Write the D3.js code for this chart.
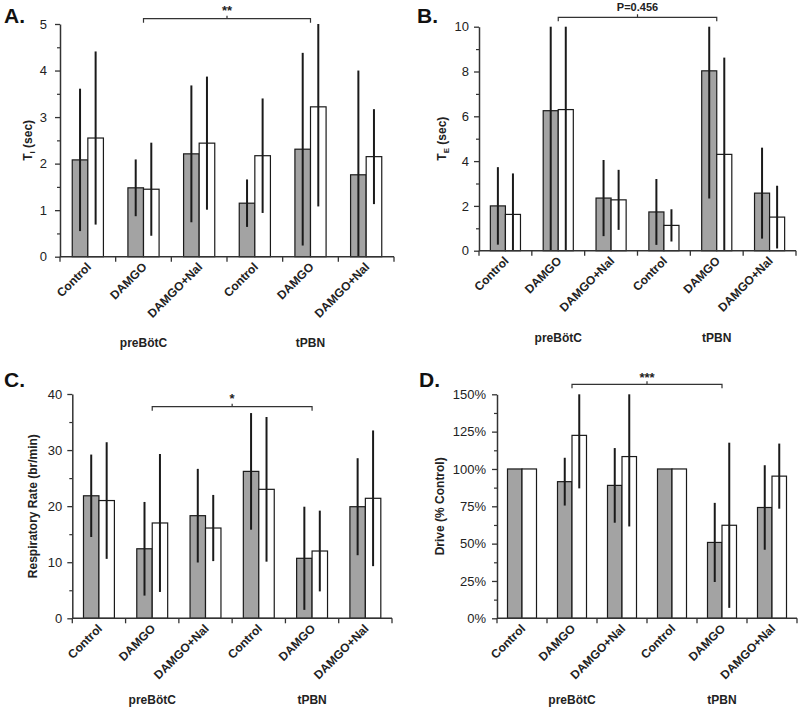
<!DOCTYPE html>
<html><head><meta charset="utf-8">
<script src="https://cdn.jsdelivr.net/npm/d3@7"></script>
<style>body{margin:0;background:#fff}svg{display:block}</style>
</head><body><svg id="c" width="800" height="709"></svg>
<script>
// ---------- data ----------
const categories = ["Control","DAMGO","DAMGO+Nal","Control","DAMGO","DAMGO+Nal"];
const groups = ["preBötC","tPBN"];

// Panel A: T_I (sec)
const tiGrayMean  = [2.08,1.48,2.21,1.15,2.31,1.76];
const tiGraySD    = [1.53,0.61,1.47,0.51,2.07,2.24];
const tiWhiteMean = [2.55,1.45,2.44,2.17,3.22,2.15];
const tiWhiteSD   = [1.86,1.00,1.43,1.23,2.14,1.02];
const tiTicks = [0,1,2,3,4,5];

// Panel B: T_E (sec)
const teGrayMean  = [2.00,6.25,2.35,1.73,8.03,2.57];
const teGraySD    = [1.73,6.60,1.70,1.47,5.70,2.03];
const teWhiteMean = [1.62,6.30,2.27,1.13,4.30,1.50];
const teWhiteSD   = [1.83,6.60,1.34,0.72,4.32,1.40];
const teTicks = [0,2,4,6,8,10];

// Panel C: Respiratory Rate (br/min)
const rrGrayMean  = [21.85,12.4,18.3,26.2,10.7,19.9];
const rrGraySD    = [7.35,8.35,8.35,10.4,9.2,8.65];
const rrWhiteMean = [21.0,17.0,16.1,23.0,12.0,21.4];
const rrWhiteSD   = [10.4,12.3,5.9,12.9,7.2,12.1];
const rrTicks = [0,10,20,30,40];

// Panel D: Drive (% Control)
const drGrayMean  = [100,91.5,89,100,50.8,74.2];
const drGraySD    = [0,16,25,0,26.5,28.3];
const drWhiteMean = [100,122.5,108.3,100,62.3,95.2];
const drWhiteSD   = [0,35.5,46.8,0,55.3,21.8];
const drTicks = [0,25,50,75,100,125,150];

const sigLabels = ["**","P=0.456","*","***"];
const sigPair = [1,4];

// ---------- drawing ----------
const svg = d3.select("#c");
const FONT = "'Liberation Sans', Arial, sans-serif";
const GRAY = "#a3a3a3";

function panel(o){
  const g = svg.append("g");
  const x = d3.scaleBand().domain(d3.range(categories.length)).range([o.left, o.right]).padding(0);
  const y = d3.scaleLinear().domain([0, d3.max(o.ticks)]).range([o.bottom, o.top]);
  const bw = x.bandwidth() * o.barFrac;
  const cx = i => x(i) + x.bandwidth()/2;
  const dmax = d3.max(o.ticks);

  const series = [
    {mean:o.grayMean, sd:o.graySD, fill:GRAY, off:-bw},
    {mean:o.whiteMean, sd:o.whiteSD, fill:"#fff", off:0}
  ];
  series.forEach(s=>{
    const rows = s.mean.map((m,i)=>({i, m, sd:s.sd[i]}));
    g.selectAll(null).data(rows).enter().append("rect")
      .attr("x",d=>cx(d.i)+s.off).attr("width",bw)
      .attr("y",d=>y(d.m)).attr("height",d=>y(0)-y(d.m))
      .attr("fill",s.fill).attr("stroke","#1a1a1a").attr("stroke-width",1.2);
  });
  series.forEach(s=>{
    const rows = s.mean.map((m,i)=>({i, m, sd:s.sd[i]})).filter(d=>d.sd>0);
    g.selectAll(null).data(rows).enter().append("line")
      .attr("x1",d=>cx(d.i)+s.off+bw/2).attr("x2",d=>cx(d.i)+s.off+bw/2)
      .attr("y1",d=>y(Math.min(dmax,d.m+d.sd)))
      .attr("y2",d=>y(Math.max(0,d.m-d.sd)))
      .attr("stroke","#1a1a1a").attr("stroke-width",2);
  });

  // y axis
  const step = o.ticks[1]-o.ticks[0];
  const minor = d3.range(0, dmax+1e-9, step/2).filter(v=>Math.abs(v/step-Math.round(v/step))>1e-6);
  const ya = g.append("g").attr("transform",`translate(${o.left},0)`)
    .call(d3.axisLeft(y).tickValues(o.ticks).tickSize(5).tickPadding(o.tickPad).tickSizeOuter(0).tickFormat(o.fmt));
  ya.select(".domain").attr("stroke","#333").attr("stroke-width",1.5);
  ya.selectAll(".tick line").attr("stroke","#333").attr("stroke-width",1.3);
  ya.selectAll("text").attr("font-family",FONT).attr("font-size",o.tickFont).attr("fill","#222");
  const ym = g.append("g").attr("transform",`translate(${o.left},0)`)
    .call(d3.axisLeft(y).tickValues(minor).tickSize(3).tickFormat(""));
  ym.select(".domain").remove();
  ym.selectAll(".tick line").attr("stroke","#333").attr("stroke-width",1.2);

  // x axis with boundary ticks
  const xa = g.append("g");
  xa.append("line").attr("x1",o.left).attr("x2",o.right).attr("y1",y(0)).attr("y2",y(0))
    .attr("stroke","#333").attr("stroke-width",1.5);
  xa.selectAll(null).data(d3.range(categories.length+1)).enter().append("line")
    .attr("x1",i=> i<categories.length ? x(i) : o.right)
    .attr("x2",i=> i<categories.length ? x(i) : o.right)
    .attr("y1",y(0)).attr("y2",y(0)+5).attr("stroke","#333").attr("stroke-width",1.3);
  xa.selectAll(null).data(categories).enter().append("text")
    .attr("transform",(d,i)=>`translate(${cx(i)+o.lblDx},${y(0)+o.lblDy}) rotate(-45)`)
    .attr("text-anchor","end").attr("font-family",FONT).attr("font-weight","bold")
    .attr("font-size",12).attr("fill","#222").text(d=>d);
  g.selectAll(null).data(groups).enter().append("text")
    .attr("x",(d,i)=>cx(1+3*i)).attr("y",o.groupY).attr("text-anchor","middle")
    .attr("font-family",FONT).attr("font-weight","bold").attr("font-size",12).attr("fill","#222").text(d=>d);

  // y title
  const yt = g.append("text").attr("transform",`translate(${o.titleX},${(o.top+o.bottom)/2}) rotate(-90)`)
    .attr("text-anchor","middle").attr("font-family",FONT).attr("font-weight","bold")
    .attr("font-size",12).attr("fill","#222");
  yt.append("tspan").text(o.title[0]);
  if(o.title[1]) yt.append("tspan").attr("font-size",8).attr("dy",3).text(o.title[1]);
  if(o.title[2]) yt.append("tspan").attr("dy",o.title[1]?-3:0).text(o.title[2]);

  // significance bracket
  const bx1 = cx(sigPair[0]), bx2 = cx(sigPair[1]);
  const bk = g.append("g").attr("stroke","#333").attr("stroke-width",1.2).attr("fill","none");
  bk.append("path").attr("d",`M${bx1},${o.bracketY+4}V${o.bracketY}H${bx2}V${o.bracketY+4}M${(bx1+bx2)/2},${o.bracketY}V${o.bracketY-3}`);
  g.append("text").attr("x",(bx1+bx2)/2).attr("y",o.sigY).attr("text-anchor","middle")
    .attr("font-family",FONT).attr("font-weight","bold").attr("font-size",o.sigFont).attr("fill","#222").text(o.sig);

  g.append("text").attr("x",o.letterX).attr("y",o.letterY).attr("font-family",FONT)
    .attr("font-weight","bold").attr("font-size",21).attr("fill","#111").text(o.letter);
}

panel({letter:"A.", letterX:4, letterY:23, left:60, right:394, top:24, bottom:256.7,
  ticks:tiTicks, fmt:d3.format("d"), tickPad:8, tickFont:13, barFrac:0.28,
  grayMean:tiGrayMean, graySD:tiGraySD, whiteMean:tiWhiteMean, whiteSD:tiWhiteSD,
  title:["T","I"," (sec)"], titleX:32, groupY:347, lblDx:4, lblDy:11,
  bracketY:18.7, sig:sigLabels[0], sigY:15, sigFont:13});

panel({letter:"B.", letterX:417, letterY:23, left:479, right:796, top:26.7, bottom:250.7,
  ticks:teTicks, fmt:d3.format("d"), tickPad:5, tickFont:13, barFrac:0.285,
  grayMean:teGrayMean, graySD:teGraySD, whiteMean:teWhiteMean, whiteSD:teWhiteSD,
  title:["T","E"," (sec)"], titleX:446, groupY:342, lblDx:4, lblDy:11,
  bracketY:17.3, sig:sigLabels[1], sigY:11, sigFont:11});

panel({letter:"C.", letterX:4, letterY:387, left:72.3, right:392, top:394, bottom:618.3,
  ticks:rrTicks, fmt:d3.format("d"), tickPad:5, tickFont:13, barFrac:0.29,
  grayMean:rrGrayMean, graySD:rrGraySD, whiteMean:rrWhiteMean, whiteSD:rrWhiteSD,
  title:["Respiratory Rate (br/min)"], titleX:37, groupY:704, lblDx:4, lblDy:11,
  bracketY:406.7, sig:sigLabels[2], sigY:403, sigFont:13});

panel({letter:"D.", letterX:419, letterY:387, left:497, right:797, top:394.3, bottom:618.3,
  ticks:drTicks, fmt:d=>d+"%", tickPad:6, tickFont:13, barFrac:0.29,
  grayMean:drGrayMean, graySD:drGraySD, whiteMean:drWhiteMean, whiteSD:drWhiteSD,
  title:["Drive (% Control)"], titleX:444, groupY:704, lblDx:4, lblDy:11,
  bracketY:384.3, sig:sigLabels[3], sigY:382, sigFont:13});
</script></body></html>
